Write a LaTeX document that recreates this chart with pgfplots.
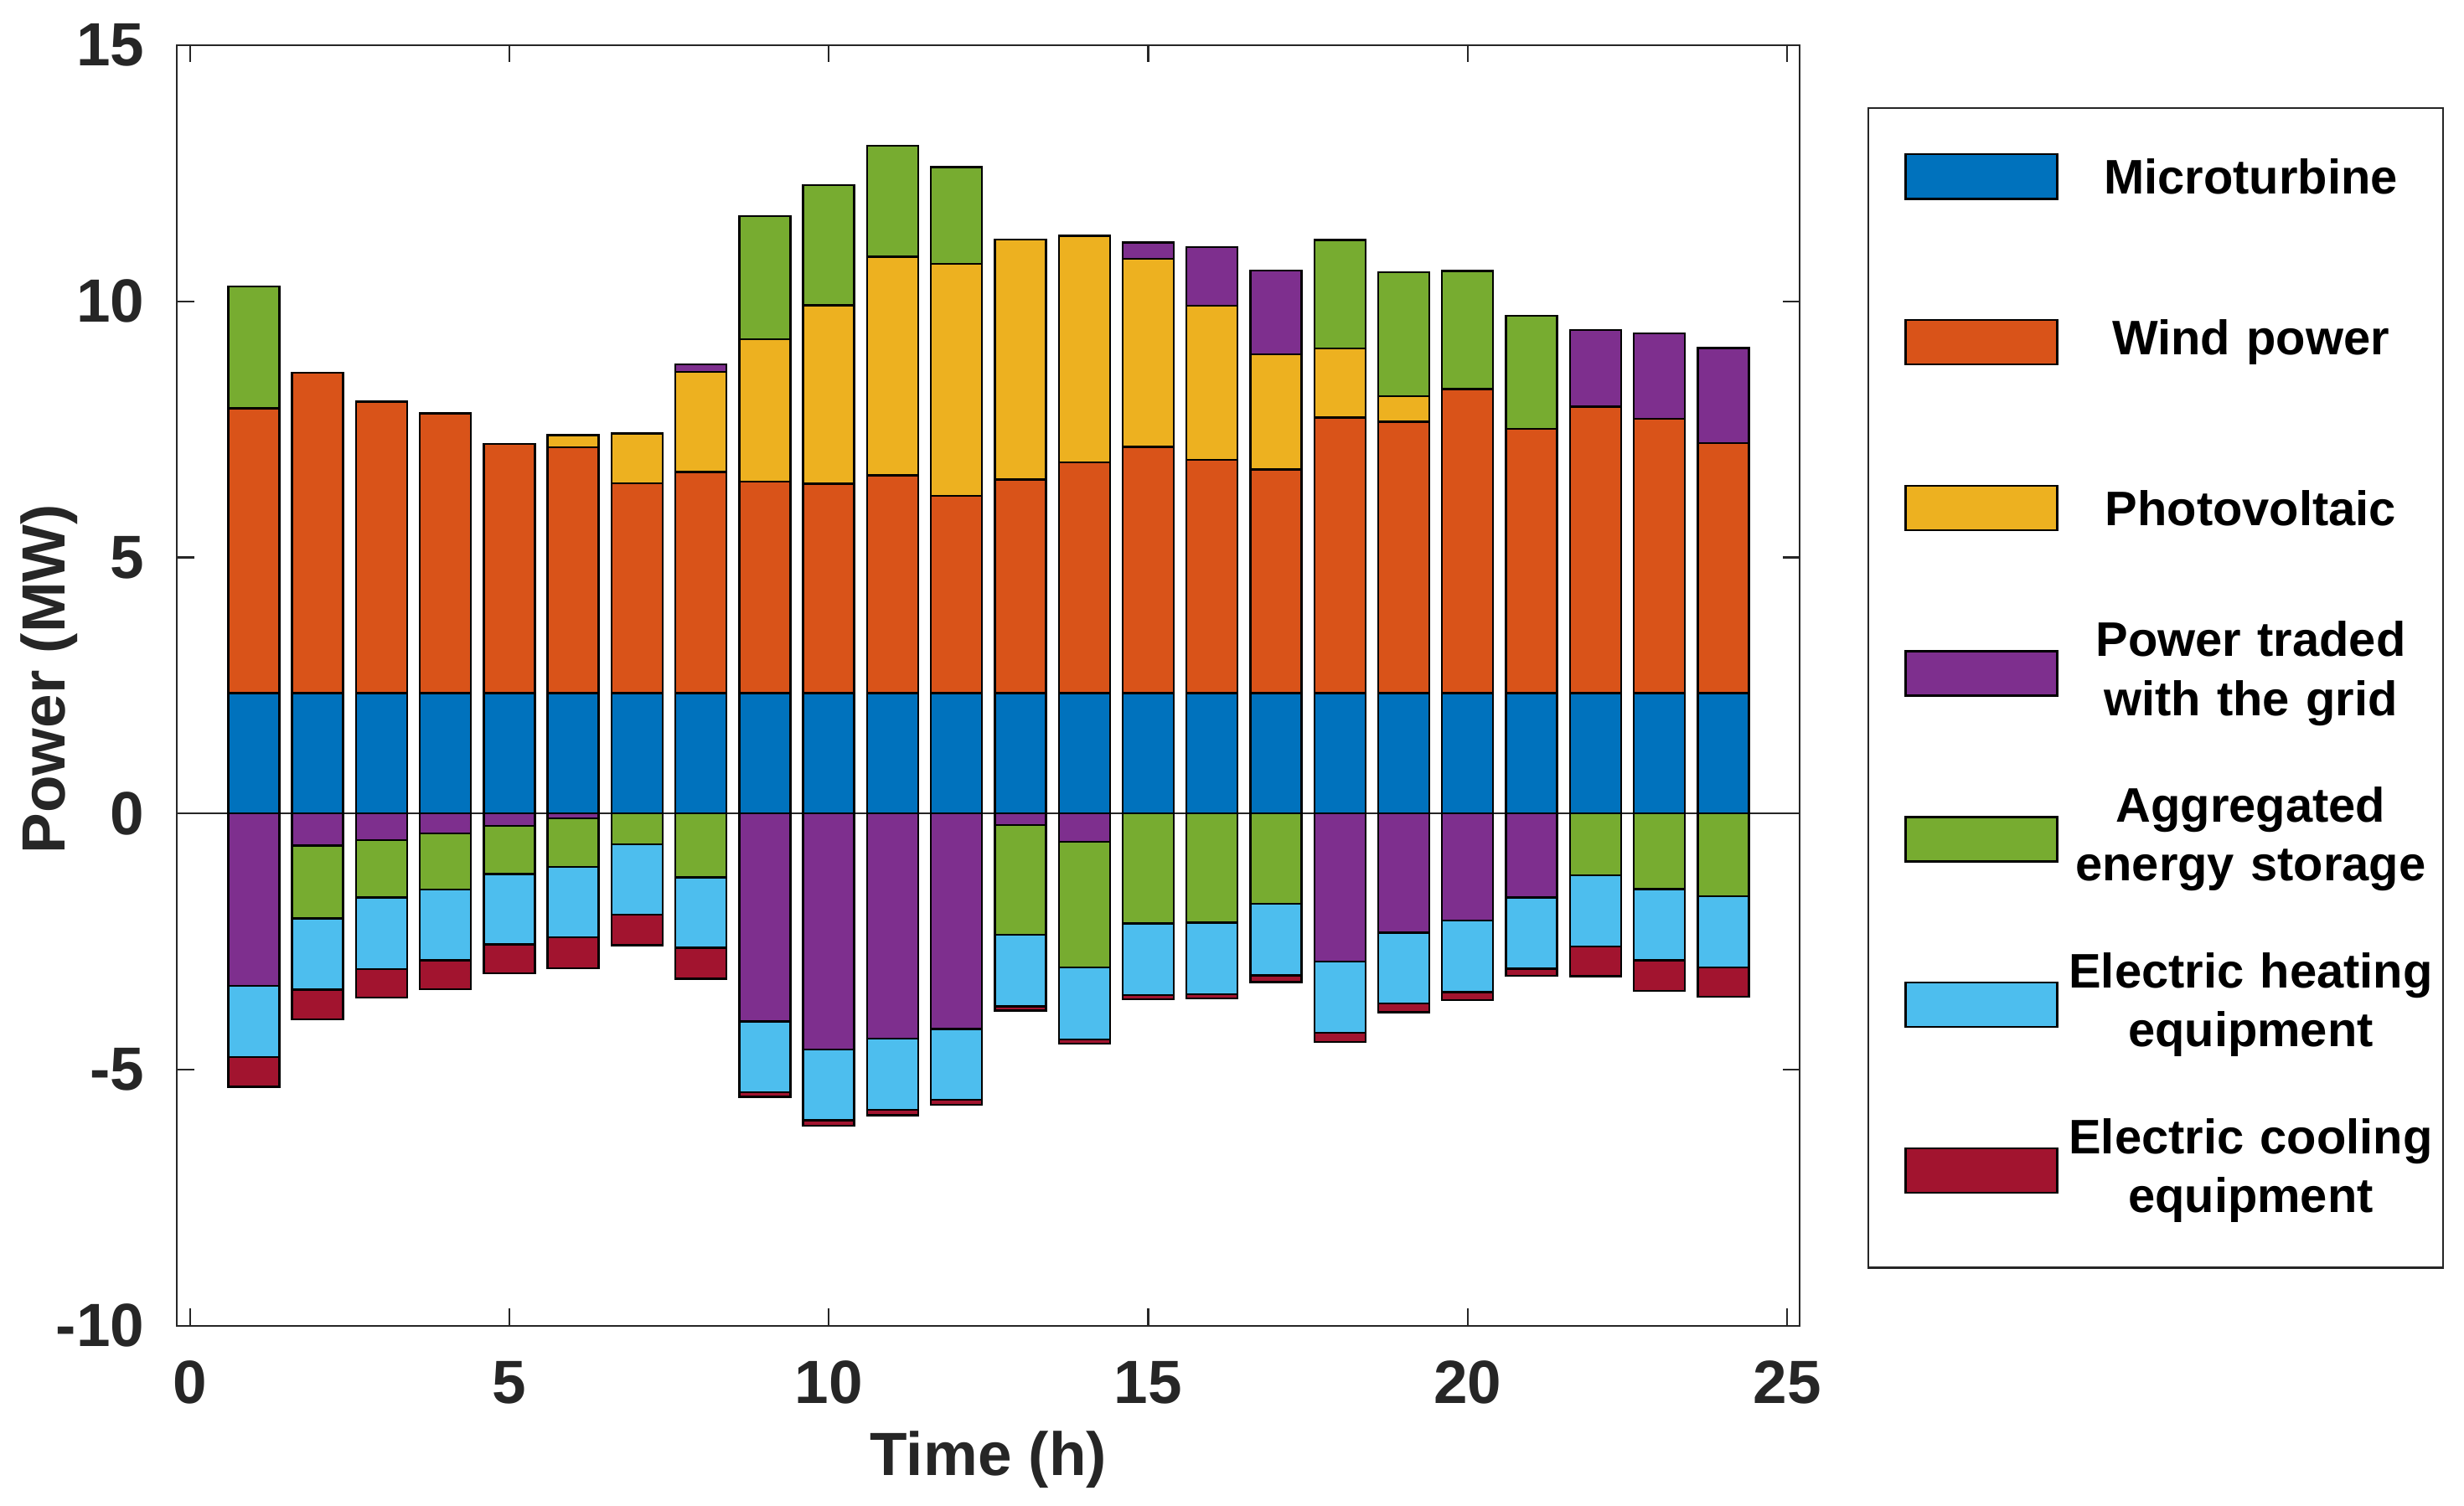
\documentclass[border=0pt]{standalone}
\usepackage{fontspec}
\setmainfont{Liberation Sans}
\usepackage{pgfplots}
\usepackage{pgfplotstable}
\pgfplotsset{compat=1.18}

\definecolor{cMT}{HTML}{0072BD}
\definecolor{cWind}{HTML}{D95319}
\definecolor{cPV}{HTML}{EDB120}
\definecolor{cGrid}{HTML}{7E2F8E}
\definecolor{cAES}{HTML}{77AC30}
\definecolor{cHeat}{HTML}{4DBEEE}
\definecolor{cCool}{HTML}{A2142F}
\definecolor{axgray}{HTML}{262626}

% positive side: microturbine, wind, PV, grid (buy), storage (discharge)
\pgfplotstableread{
x mt wind pv gridp aesp
1 2.35 5.56 0 0 2.38
2 2.35 6.26 0 0 0
3 2.35 5.69 0 0 0
4 2.35 5.46 0 0 0
5 2.35 4.87 0 0 0
6 2.35 4.80 0.24 0 0
7 2.35 4.10 0.97 0 0
8 2.35 4.32 1.95 0.15 0
9 2.35 4.13 2.78 0 2.40
10 2.35 4.09 3.48 0 2.35
11 2.35 4.25 4.27 0 2.17
12 2.35 3.85 4.53 0 1.89
13 2.35 4.17 4.69 0 0
14 2.35 4.51 4.42 0 0
15 2.35 4.81 3.67 0.32 0
16 2.35 4.55 3.01 1.15 0
17 2.35 4.37 2.25 1.63 0
18 2.35 5.38 1.35 0 2.12
19 2.35 5.30 0.50 0 2.42
20 2.35 5.94 0 0 2.30
21 2.35 5.16 0 0 2.21
22 2.35 5.59 0 1.50 0
23 2.35 5.36 0 1.66 0
24 2.35 4.88 0 1.86 0
}\postable

% negative side: grid (sell), storage (charge), heating, cooling
\pgfplotstableread{
x gridn aesn heat cool
1 -3.37 0 -1.39 -0.58
2 -0.63 -1.42 -1.39 -0.58
3 -0.52 -1.12 -1.40 -0.56
4 -0.39 -1.10 -1.38 -0.56
5 -0.24 -0.94 -1.38 -0.56
6 -0.10 -0.94 -1.38 -0.60
7 0 -0.60 -1.38 -0.59
8 0 -1.25 -1.37 -0.61
9 -4.06 0 -1.38 -0.09
10 -4.61 0 -1.38 -0.11
11 -4.40 0 -1.39 -0.10
12 -4.21 0 -1.38 -0.10
13 -0.23 -2.14 -1.40 -0.08
14 -0.55 -2.46 -1.40 -0.08
15 0 -2.15 -1.40 -0.08
16 0 -2.13 -1.40 -0.08
17 0 -1.76 -1.40 -0.13
18 -2.89 0 -1.39 -0.18
19 -2.33 0 -1.38 -0.17
20 -2.09 0 -1.40 -0.15
21 -1.64 0 -1.39 -0.14
22 0 -1.21 -1.39 -0.58
23 0 -1.48 -1.39 -0.59
24 0 -1.62 -1.39 -0.57
}\negtable

\pgfplotsset{
  common/.style={
    scale only axis, width=361.4pt, height=285.2pt,
    xmin=-0.2, xmax=25.2, ymin=-10, ymax=15,
    ybar stacked, bar width=0.8,
  },
  barstyle/.style={draw=black, line width=0.45pt},
}

\begin{document}
\begin{tikzpicture}
\begin{axis}[common,
  axis line style={axgray, line width=0.4pt},
  tick style={axgray, line width=0.4pt},
  tick align=inside, major tick length=3.8pt,
  xtick={0,5,...,25}, ytick={-10,-5,...,15},
  minor tick num=0,
  /pgf/number format/assume math mode=true,
  tick label style={font=\fontsize{13.6}{16}\selectfont\bfseries, text=axgray},
  xticklabel style={anchor=base, yshift=-17.3pt},
  yticklabel style={anchor=east, inner sep=0pt, xshift=-7.1pt},
  label style={font=\fontsize{13.6}{16}\selectfont\bfseries, text=axgray},
  xlabel={Time (h)}, ylabel={Power (MW)},
  xlabel style={at={(axis description cs:0.5,0)}, anchor=base, yshift=-33.3pt},
  ylabel style={at={(axis description cs:-0.0692,0.505)}, anchor=base},
  extra y ticks={0}, extra y tick labels={},
  extra y tick style={grid=major, major grid style={draw=axgray, line width=0.45pt}, major tick length=0pt},
  legend image code/.code={
    \path[draw=none, fill=none] (0pt,-5pt) rectangle (42pt,5pt);
    \draw[#1, draw=black, line width=0.45pt] (8.27pt,-4.95pt) rectangle (42pt,4.95pt);
  },
  legend style={at={(1,1)}, anchor=north west, xshift=15.1pt, yshift=-13.8pt,
    draw=axgray, line width=0.4pt, inner xsep=0pt, inner ysep=0pt,
    column sep=0pt, row sep=6.4pt,
    font=\fontsize{10.8}{13.1}\selectfont\bfseries,
    nodes={text width=85.75pt, align=center, minimum height=30.5pt, inner sep=0pt, text depth=},
  },
]
\addplot[barstyle, fill=cMT] table[x=x, y=mt]{\postable};
\addlegendentry{Microturbine}
\addplot[barstyle, fill=cWind] table[x=x, y=wind]{\postable};
\addlegendentry{Wind power}
\addplot[barstyle, fill=cPV] table[x=x, y=pv]{\postable};
\addlegendentry{Photovoltaic}
\addplot[barstyle, fill=cGrid] table[x=x, y=gridp]{\postable};
\addlegendentry{Power traded\\with the grid}
\addplot[barstyle, fill=cAES] table[x=x, y=aesp]{\postable};
\addlegendentry{Aggregated\\energy storage}
\addlegendimage{fill=cHeat}
\addlegendentry{Electric heating\\equipment}
\addlegendimage{fill=cCool}
\addlegendentry{Electric cooling\\equipment}
\addlegendimage{empty legend}
\addlegendentry[minimum height=0pt, text width=1pt, text height=0pt, text depth=0pt]{\relax}
\end{axis}
\begin{axis}[common, hide axis]
\addplot[barstyle, fill=cGrid] table[x=x, y=gridn]{\negtable};
\addplot[barstyle, fill=cAES] table[x=x, y=aesn]{\negtable};
\addplot[barstyle, fill=cHeat] table[x=x, y=heat]{\negtable};
\addplot[barstyle, fill=cCool] table[x=x, y=cool]{\negtable};
\end{axis}
\pgfresetboundingbox
\path[use as bounding box] (-39.43pt,-40.06pt) rectangle (509.3pt,295.28pt);
\end{tikzpicture}
\end{document}
